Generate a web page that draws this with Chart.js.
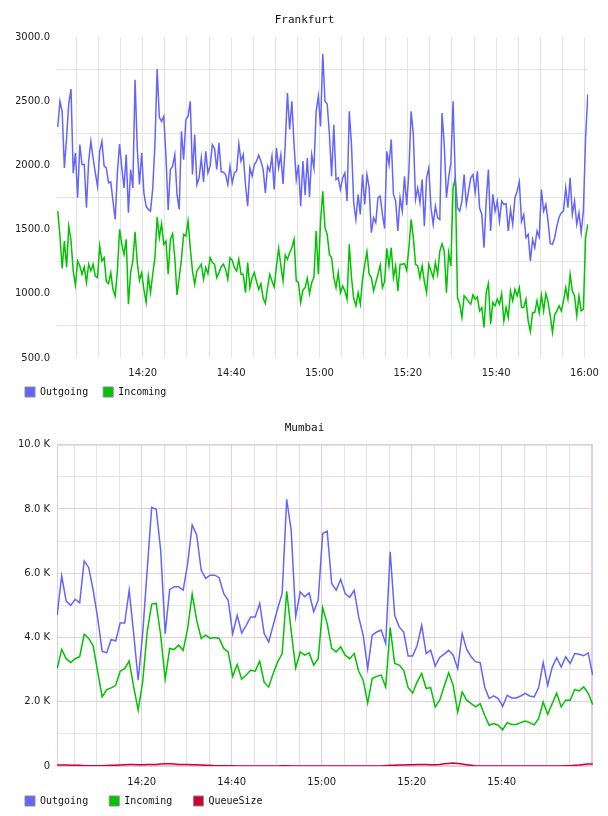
<!DOCTYPE html>
<html lang="en">
<head>
  <meta charset="UTF-8">
  <title>Frankfurt / Mumbai traffic</title>
  <script src="https://cdn.jsdelivr.net/npm/chart.js"></script>
  <style>
    body {
      margin: 0;
      background: #fff;
    }
    canvas {
      display: block;
    }
  </style>
</head>
<body>
  <canvas id="frankfurt" width="608" height="407"></canvas>
  <canvas id="mumbai" width="608" height="409"></canvas>

  <script>
    // x values are minutes after 14:00
    // Frankfurt: one sample every 30 s, first one at 14:00:45
    const frankfurtStart = 0.75;
    const frankfurtStep = 0.5;
    const frankfurtOut = [
      2300, 2500, 2420, 1980, 2215, 2485, 2595, 1940, 2097, 1748,
      2162, 2007, 2007, 1670, 2033, 2188, 2058, 1942, 1838, 2110,
      2188, 1994, 1981, 1864, 1872, 1722, 1579, 1942, 2167, 1981,
      1825, 2084, 1631, 1968, 1825, 2667, 2136, 1851, 2097, 1787,
      1683, 1657, 1644, 1818, 2162, 2750, 2374, 2343, 2382, 2071,
      1652, 1968, 1994, 2084, 1774, 1657, 2266, 2045, 2356, 2382,
      2499, 1929, 2240, 1851, 1903, 2058, 1872, 2110, 1942, 1994,
      2162, 2131, 1968, 2175, 1950, 1947, 1929, 1851, 1994, 1864,
      1942, 1955, 2167, 2033, 2084, 1851, 1683, 1981, 1916, 2007,
      2033, 2079, 2033, 1968, 1786, 1994, 1955, 2071, 1812, 2136,
      1981, 2084, 1856, 2162, 2563, 2279, 2499, 2162, 1890, 2007,
      1683, 2033, 1768, 2058, 1753, 2084, 1981, 2421, 2538, 2304,
      2870, 2499, 2478, 2245, 1916, 2317, 1890, 1903, 1812, 1903,
      1942, 1722, 2421, 2162, 1709, 1579, 1773, 1618, 1929, 1696,
      1929, 1825, 1476, 1592, 1553, 1748, 1761, 1618, 1509, 2110,
      2007, 2201, 1774, 1722, 1489, 1748, 1644, 1916, 1691, 1955,
      2421, 2245, 1735, 1825, 1709, 1890, 1527, 1903, 1981, 1670,
      1540, 1683, 1592, 1579, 2408, 2162, 1748, 1903, 2019, 2500,
      1900, 1670, 1644, 1722, 1929, 1696, 1799, 1903, 1929, 1787,
      1955, 1670, 1618, 1359, 1722, 1968, 1489, 1774, 1644, 1722,
      1566, 1722, 1696, 1701, 1489, 1657, 1540, 1748, 1799, 1872,
      1563, 1618, 1437, 1463, 1256, 1424, 1359, 1489, 1442, 1812,
      1644, 1696, 1566, 1390, 1385, 1437, 1527, 1597, 1631, 1644,
      1825, 1670, 1903, 1618, 1722, 1540, 1631, 1476, 1644, 2214,
      2551
    ];
    const frankfurtIn = [
      1644, 1450, 1198, 1411, 1209, 1527, 1416, 1178, 1069, 1256,
      1217, 1152, 1209, 1087, 1230, 1178, 1230, 1139, 1126, 1372,
      1256, 1281, 1095, 1079, 1165, 1035, 983, 1178, 1502, 1385,
      1307, 1424, 919, 1165, 1256, 1483, 1243, 1105, 1165, 1035,
      932, 1139, 1009, 1152, 1281, 1597, 1437, 1546, 1385, 1411,
      1152, 1424, 1468, 1281, 991, 1126, 1268, 1463, 1450, 1566,
      1359, 1178, 1074, 1178, 1204, 1230, 1113, 1204, 1157, 1281,
      1243, 1230, 1126, 1165, 1209, 1230, 1191, 1113, 1281, 1261,
      1204, 1178, 1268, 1152, 1152, 1009, 1243, 1048, 1126, 1165,
      1095, 1035, 1079, 965, 924, 1048, 1152, 1100, 1053, 1209,
      1354, 1224, 1100, 1302, 1268, 1320, 1359, 1424, 1100, 1087,
      932, 1028, 1048, 1121, 1002, 1087, 1131, 1489, 1152, 1566,
      1799, 1514, 1463, 1307, 1281, 1126, 1048, 1165, 1009, 1061,
      1022, 958, 1385, 1126, 965, 906, 1009, 919, 1113, 1230,
      1328, 1152, 1126, 1022, 1087, 1152, 1224, 1048, 1095, 1354,
      1217, 1359, 1126, 1217, 1022, 1230, 1230, 1235, 1183, 1359,
      1579, 1437, 1230, 1217, 1126, 1217, 1095, 1009, 1230, 1178,
      1126, 1243, 1152, 1333, 1390, 1333, 1009, 1320, 1217, 1825,
      1900, 971, 919, 815, 984, 965, 939, 919, 991, 958,
      976, 867, 893, 738, 1009, 1079, 763, 932, 906, 958,
      919, 1002, 789, 893, 815, 1022, 945, 1035, 984, 1048,
      893, 893, 958, 789, 706, 854, 854, 945, 854, 991,
      867, 1002, 939, 828, 699, 836, 867, 906, 867, 945,
      1048, 958, 1152, 1022, 984, 828, 984, 867, 880, 1437,
      1540
    ];

    // Mumbai: one sample per minute, first one at 14:01:12
    const mumbaiStart = 1.2;
    const mumbaiStep = 1;
    const mumbaiOut = [
      4700, 5920, 5130, 5000, 5190, 5080, 6380, 6180, 5470, 4600,
      3570, 3520, 3940, 3890, 4450, 4450, 5470, 4120, 2670, 4120,
      6100, 8050, 7990, 6720, 4120, 5490, 5580, 5580, 5470, 6300,
      7500, 7190, 6100, 5840, 5940, 5940, 5860, 5370, 5160, 4120,
      4690, 4140, 4380, 4640, 4640, 5060, 4120, 3860, 4380, 4900,
      5370, 8300, 7340, 4650, 5420, 5270, 5390, 4800, 5160, 7240,
      7310, 5680, 5470, 5810, 5370, 5250, 5470, 4640, 4070, 3030,
      4070, 4170, 4230, 3810, 6670, 4690, 4330, 4170, 3420, 3420,
      3760, 4380, 3500, 3600, 3110, 3380, 3480, 3600, 3450, 3030,
      4120, 3630, 3400, 3240, 3220, 2460, 2100, 2180, 2100, 1860,
      2200, 2120, 2120, 2180, 2260, 2180, 2150, 2440, 3220, 2510,
      3070, 3370, 3080, 3400, 3190, 3500, 3480, 3430, 3520, 2830
    ];
    const mumbaiIn = [
      3030, 3630, 3340, 3220, 3340, 3400, 4100, 3970, 3740, 2930,
      2150, 2380, 2430, 2510, 2950, 3030, 3270, 2460, 1740, 2620,
      4170, 5040, 5060, 4070, 2700, 3660, 3630, 3760, 3600, 4280,
      5350, 4540, 3970, 4070, 3970, 4000, 3970, 3660, 3550, 2790,
      3160, 2700, 2830, 2980, 2950, 3260, 2600, 2460, 2880, 3240,
      3500, 5440, 4200, 3050, 3550, 3450, 3520, 3140, 3340, 4930,
      4430, 3660, 3550, 3710, 3450, 3340, 3500, 2950, 2670, 1960,
      2720, 2790, 2830, 2460, 4310, 3190, 3140, 2980, 2440, 2270,
      2620, 2880, 2410, 2440, 1840, 2050, 2480, 2900, 2510, 1680,
      2310, 2050, 1940, 1840, 1940, 1580, 1270, 1320, 1270, 1130,
      1350, 1290, 1290, 1350, 1400, 1350, 1280, 1480, 1990, 1610,
      1940, 2270, 1840, 2050, 2050, 2380, 2340, 2460, 2270, 1910
    ];
    const mumbaiQueue = [
      30, 30, 30, 25, 20, 20, 10, 10, 10, 10,
      10, 15, 20, 20, 30, 40, 50, 50, 40, 40,
      50, 50, 50, 60, 70, 70, 60, 50, 50, 50,
      40, 40, 30, 20, 20, 10, 10, 10, 10, 5,
      0, 0, 0, 0, 0, 0, 0, 0, 0, 0,
      10, 10, 0, 0, 0, 0, 0, 0, 0, 0,
      0, 0, 0, 0, 0, 0, 0, 0, 0, 0,
      0, 0, 0, 10, 20, 20, 30, 30, 40, 40,
      50, 50, 50, 40, 40, 50, 70, 80, 90, 80,
      60, 40, 20, 0, 0, 0, 0, 0, 0, 0,
      0, 0, 0, 0, 0, 0, 0, 0, 0, 0,
      0, 0, 0, 10, 10, 20, 30, 50, 60, 60
    ];

    const MONO = "'DejaVu Sans Mono', monospace";
    const SANS = "'DejaVu Sans', sans-serif";
    const GRID = '#e3e3e3';
    const GRID_MAJOR = '#e6cbe6';

    Chart.defaults.font.family = SANS;
    Chart.defaults.font.size = 10;

    function clock(m) {
      const h = 14 + Math.floor(m / 60);
      return h + ':' + String(m % 60).padStart(2, '0');
    }

    function series(values, start, step) {
      return values.map((v, i) => ({ x: start + i * step, y: v }));
    }

    // fixed tick positions instead of the ones chart.js picks
    function everyStep(from, to, step) {
      return scale => {
        scale.ticks = [];
        for (let v = from; v <= to; v += step) {
          if (v >= scale.min && v <= scale.max) scale.ticks.push({ value: v });
        }
      };
    }

    // legend spacing: chart.js uses one padding for both directions,
    // so the extra horizontal gap comes from trailing spaces
    function legendLabels(gap) {
      return chart => chart.data.datasets.map((ds, i) => ({
        text: ds.label + gap,
        fillStyle: ds.borderColor,
        strokeStyle: '#8a8a8a',
        lineWidth: 1,
        fontColor: '#111',
        hidden: !chart.isDatasetVisible(i),
        datasetIndex: i
      }));
    }

    const framePlugin = {
      id: 'frame',
      beforeDatasetsDraw(chart, args, opts) {
        if (!opts.color) return;
        const a = chart.chartArea;
        const ctx = chart.ctx;
        ctx.save();
        ctx.strokeStyle = opts.color;
        ctx.lineWidth = 1;
        ctx.strokeRect(a.left + 0.5, a.top + 0.5, a.right - a.left - 1, a.bottom - a.top - 1);
        ctx.restore();
      }
    };

    function line(label, color, data) {
      return {
        label, data,
        borderColor: color,
        backgroundColor: color,
        borderWidth: 1.5,
        pointRadius: 0,
        tension: 0,
        fill: false
      };
    }

    // ---- Frankfurt ----
    new Chart(document.getElementById('frankfurt'), {
      type: 'line',
      data: {
        datasets: [
          line('Outgoing', '#6464ff', series(frankfurtOut, frankfurtStart, frankfurtStep)),
          line('Incoming', '#00c400', series(frankfurtIn, frankfurtStart, frankfurtStep))
        ]
      },
      options: {
        animation: false,
        responsive: false,
        devicePixelRatio: 1,
        events: [],
        layout: { padding: { left: 16, right: 15, top: 0, bottom: 0 } },
        plugins: {
          title: {
            display: true,
            text: 'Frankfurt',
            color: '#111',
            font: { family: MONO, size: 11, weight: 'normal' },
            padding: { top: 13.4, bottom: 10.4 }
          },
          legend: {
            position: 'bottom',
            align: 'start',
            labels: {
              boxWidth: 10,
              boxHeight: 10,
              padding: 9,
              color: '#111',
              font: { family: MONO, size: 10 },
              generateLabels: legendLabels(' ')
            }
          },
          tooltip: { enabled: false }
        },
        scales: {
          x: {
            type: 'linear',
            min: 0.58,
            max: 120.84,
            afterBuildTicks: everyStep(5, 120, 5),
            afterFit: s => { s.height = 20; },
            border: { display: false },
            grid: { color: GRID, drawTicks: false },
            ticks: {
              autoSkip: false,
              maxRotation: 0,
              padding: 9,
              color: '#222',
              callback: v => v % 20 === 0 ? clock(v) : ''
            }
          },
          y: {
            min: 500,
            max: 3000,
            afterBuildTicks: everyStep(500, 3000, 250),
            afterFit: s => { s.width = 41; },
            border: { display: false },
            grid: {
              drawTicks: false,
              color: c => (c.tick && c.tick.value % 500 === 0) ? 'rgba(0,0,0,0)' : GRID
            },
            ticks: {
              autoSkip: false,
              padding: 7,
              color: '#222',
              callback: v => v % 500 === 0 ? v.toFixed(1) : ''
            }
          }
        }
      }
    });

    // ---- Mumbai ----
    new Chart(document.getElementById('mumbai'), {
      type: 'line',
      data: {
        datasets: [
          line('Outgoing', '#6464ff', series(mumbaiOut, mumbaiStart, mumbaiStep)),
          line('Incoming', '#00c400', series(mumbaiIn, mumbaiStart, mumbaiStep)),
          line('QueueSize', '#cc0033', series(mumbaiQueue, mumbaiStart, mumbaiStep))
        ]
      },
      plugins: [framePlugin],
      options: {
        animation: false,
        responsive: false,
        devicePixelRatio: 1,
        events: [],
        layout: { padding: { left: 16, right: 15, top: 0, bottom: 0 } },
        plugins: {
          frame: { color: GRID_MAJOR },
          title: {
            display: true,
            text: 'Mumbai',
            color: '#111',
            font: { family: MONO, size: 11, weight: 'normal' },
            padding: { top: 15, bottom: 9.5 }
          },
          legend: {
            position: 'bottom',
            align: 'start',
            labels: {
              boxWidth: 10,
              boxHeight: 10,
              padding: 9,
              color: '#111',
              font: { family: MONO, size: 10 },
              generateLabels: legendLabels('  ')
            }
          },
          tooltip: { enabled: false }
        },
        scales: {
          x: {
            type: 'linear',
            min: 1.16,
            max: 120.27,
            afterBuildTicks: everyStep(5, 120, 5),
            afterFit: s => { s.height = 21; },
            border: { display: false },
            grid: {
              drawTicks: false,
              color: c => (c.tick && c.tick.value % 20 === 0) ? GRID_MAJOR : GRID
            },
            ticks: {
              autoSkip: false,
              maxRotation: 0,
              padding: 10,
              color: '#222',
              callback: v => (v % 20 === 0 && v < 120) ? clock(v) : ''
            }
          },
          y: {
            min: 0,
            max: 10000,
            afterBuildTicks: everyStep(0, 10000, 1000),
            afterFit: s => { s.width = 41; },
            border: { display: false },
            grid: {
              drawTicks: false,
              color: c => (c.tick && c.tick.value % 2000 === 0) ? GRID_MAJOR : GRID
            },
            ticks: {
              autoSkip: false,
              padding: 7,
              color: '#222',
              callback: v => v === 0 ? '0' : (v % 2000 === 0 ? (v / 1000).toFixed(1) + ' K' : '')
            }
          }
        }
      }
    });
  </script>
</body>
</html>
